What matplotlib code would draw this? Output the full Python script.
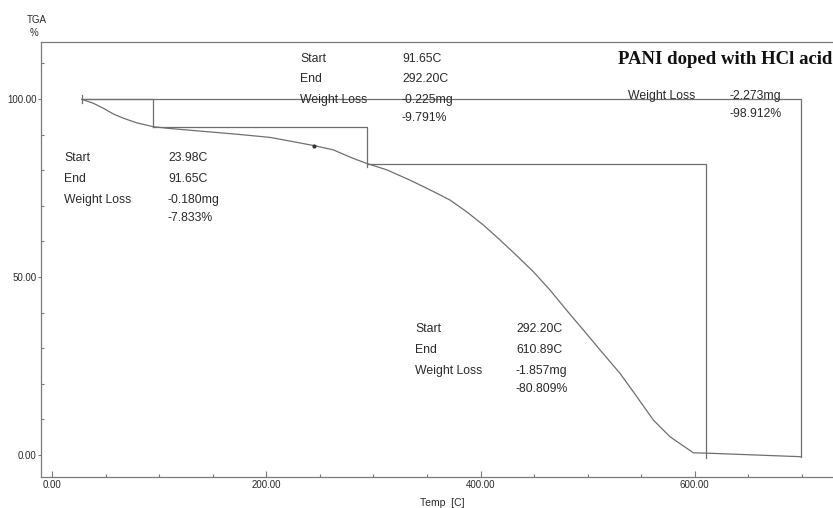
import numpy as np
import matplotlib.pyplot as plt

# TGA curve (temperature in C, weight in %)
temp = [27.3, 38.1, 47.5, 56.8, 66.2, 78.7, 94.2, 109.8, 140.9, 172.1,
        203.3, 225.0, 244.4, 262.4, 281.1, 293.6, 312.3, 334.1, 355.9, 371.5,
        387.1, 402.6, 418.2, 433.8, 449.3, 465.0, 480.6, 496.1, 511.7, 530.4,
        546.0, 561.5, 577.1, 598.9, 611.4, 699.5]
tga = [99.9, 98.8, 97.4, 95.8, 94.6, 93.3, 92.2, 91.7, 90.9, 90.1,
       89.2, 88.0, 86.9, 85.7, 83.3, 81.9, 80.1, 77.2, 74.0, 71.6,
       68.3, 64.6, 60.4, 56.0, 51.5, 46.3, 40.6, 35.1, 29.5, 22.9,
       16.4, 9.8, 5.1, 0.6, 0.5, -0.5]

# step analysis boxes: start T, end T, level at start, level at end
step_start = [27.3, 94.2, 294.2, 27.3]
step_end = [94.2, 294.2, 610.7, 699.5]
step_top = [100.0, 92.0, 81.7, 100.0]
step_bottom = [92.1, 80.8, -0.8, -0.5]

dot_t, dot_w = 244.4, 86.9

# annotation blocks
blocks = [
    (["Start", "End", "Weight Loss"], ["23.98C", "91.65C", "-0.180mg", "-7.833%"]),
    (["Start", "End", "Weight Loss"], ["91.65C", "292.20C", "-0.225mg", "-9.791%"]),
    (["Weight Loss"], ["-2.273mg", "-98.912%"]),
    (["Start", "End", "Weight Loss"], ["292.20C", "610.89C", "-1.857mg", "-80.809%"]),
]
block_pos = [(64, 168, [158, 179, 200, 218]),
             (300, 402, [59, 79, 100, 118]),
             (628, 729, [96, 114]),
             (415, 516, [329, 350, 371, 389])]

title = "PANI doped with HCl acid"
xticks = [0, 200, 400, 600]
yticks = [0, 50, 100]

W, H = 833, 508
line_c = '#6f6f6f'
text_c = '#2a2a2a'

fig = plt.figure(figsize=(W/100, H/100), dpi=100)
ax = fig.add_axes([41/W, 31/H, (W-41)/W, 435/H])
ax.set_xlim(-10.7, 729.4)
ax.set_ylim(-6.2, 116.0)

ax.plot(temp, tga, color=line_c, lw=0.9)
ax.plot([dot_t], [dot_w], 'o', color='#333333', ms=2)

for s, e, top, bot in zip(step_start, step_end, step_top, step_bottom):
    ax.plot([s, e, e], [top, top, bot], color=line_c, lw=0.9)
# start marker
ax.plot([step_start[0]]*2, [98.8, 101.2], color=line_c, lw=0.9)

ax.spines['right'].set_visible(False)
for side in ['left', 'top', 'bottom']:
    ax.spines[side].set_color('#7a7a7a')
    ax.spines[side].set_linewidth(0.9)

ax.set_xticks(xticks)
ax.set_xticklabels(['%.2f' % v for v in xticks])
ax.set_xticks(np.arange(50, 701, 50), minor=True)
ax.set_yticks(yticks)
ax.set_yticklabels(['%.2f' % v for v in yticks])
ax.set_yticks(np.arange(10, 111, 10), minor=True)

ax.tick_params(axis='x', which='major', direction='in', length=4, width=0.8,
               color='#7a7a7a', labelsize=7, pad=2.5, labelcolor=text_c)
ax.tick_params(axis='x', which='minor', direction='in', length=2.5, width=0.8,
               color='#7a7a7a')
ax.tick_params(axis='y', which='major', direction='out', length=2.5, width=0.8,
               color='#7a7a7a', labelsize=7, pad=0.5, labelcolor=text_c)
ax.tick_params(axis='y', which='minor', direction='in', length=2.5, width=0.8,
               color='#7a7a7a')
for lab in ax.get_xticklabels() + ax.get_yticklabels():
    lab.set_family('Liberation Sans')


def px(x, y):
    return x / W, 1 - y / H


for (labels, values), (lx, vx, ys) in zip(blocks, block_pos):
    for lab, y in zip(labels, ys):
        fig.text(*px(lx, y), lab, fontsize=8.8, family='Liberation Sans',
                 color=text_c, va='center', ha='left')
    for val, y in zip(values, ys):
        fig.text(*px(vx, y), val, fontsize=8.8, family='Liberation Sans',
                 color=text_c, va='center', ha='left')

fig.text(*px(618, 59), title, fontsize=13.5, family='Liberation Serif',
         weight='bold', color='#111111', va='center', ha='left')

fig.text(*px(37, 20), "TGA", fontsize=7, family='Liberation Sans',
         color=text_c, va='center', ha='center')
fig.text(*px(34, 33), "%", fontsize=7, family='Liberation Sans',
         color=text_c, va='center', ha='center')
fig.text(*px(442, 503), "Temp  [C]", fontsize=7.5, family='Liberation Sans',
         color=text_c, va='center', ha='center')

fig.savefig('out.png', dpi=100)
